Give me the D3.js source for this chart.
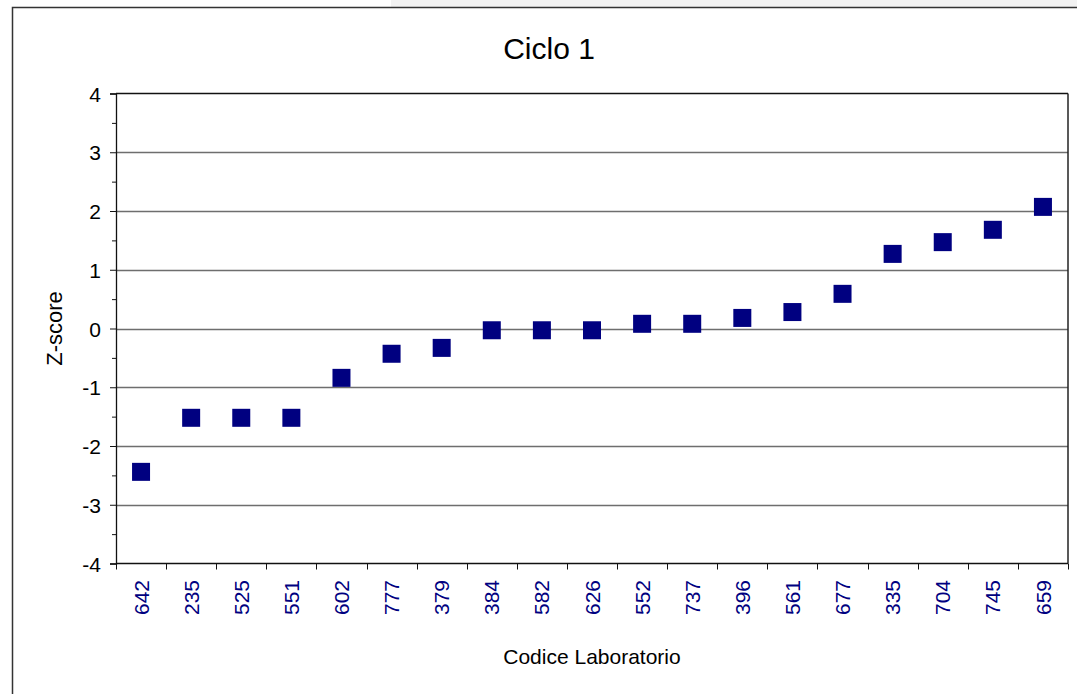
<!DOCTYPE html>
<html>
<head>
<meta charset="utf-8">
<script src="https://cdn.jsdelivr.net/npm/d3@7"></script>
<style>
  body { margin: 0; background: #fff; }
  svg { display: block; font-family: "Liberation Sans", Arial, sans-serif; }
</style>
</head>
<body>
<div id="container"></div>
<script>
// lab codes and their z-scores
var labCodes = ["642", "235", "525", "551", "602", "777", "379", "384", "582", "626",
                "552", "737", "396", "561", "677", "335", "704", "745", "659"];
var zScores = [-2.44, -1.52, -1.52, -1.52, -0.84, -0.43, -0.33, -0.03, -0.03, -0.03,
               0.08, 0.08, 0.18, 0.28, 0.59, 1.27, 1.47, 1.68, 2.07];
var yTicks = [-4, -3, -2, -1, 0, 1, 2, 3, 4];
var yMinorTicks = [-3.5, -2.5, -1.5, -0.5, 0.5, 1.5, 2.5, 3.5];

var W = 1077, H = 694;
var plot = { left: 116, right: 1068, top: 93.5, bottom: 563.5 };

var svg = d3.select("div#container")
  .append("svg")
  .attr("width", W)
  .attr("height", H);

// faint strip along the top and the outer chart frame
svg.append("rect")
  .attr("x", 391).attr("y", 0).attr("width", W - 391).attr("height", 7)
  .attr("fill", "#f2f2f2");
svg.append("rect")
  .attr("x", 12.5).attr("y", 7.5).attr("width", W + 20).attr("height", H + 20)
  .attr("fill", "none").attr("stroke", "#333").attr("stroke-width", 1.5);

var x = d3.scaleBand()
  .domain(labCodes)
  .range([plot.left, plot.right])
  .padding(0);

var y = d3.scaleLinear()
  .domain([-4, 4])
  .range([plot.bottom, plot.top]);

// gridlines
svg.append("g")
  .attr("class", "grid")
  .selectAll("line")
  .data(yTicks.filter(function(d) { return d > -4 && d < 4; }))
  .enter().append("line")
  .attr("x1", plot.left).attr("x2", plot.right)
  .attr("y1", function(d) { return Math.round(y(d)) + 0.5; })
  .attr("y2", function(d) { return Math.round(y(d)) + 0.5; })
  .attr("stroke", "#6e6e6e")
  .attr("stroke-width", 1.3);

// plot frame: top and right
svg.append("line")
  .attr("x1", plot.left).attr("x2", plot.right)
  .attr("y1", y(4)).attr("y2", y(4))
  .attr("stroke", "#111").attr("stroke-width", 1.3);
svg.append("line")
  .attr("x1", plot.right).attr("x2", plot.right)
  .attr("y1", y(4)).attr("y2", y(-4))
  .attr("stroke", "#222").attr("stroke-width", 1.5);

// y axis
var yAxis = svg.append("g")
  .attr("transform", "translate(" + plot.left + ",0)")
  .call(d3.axisLeft(y).tickValues(yTicks).tickSize(6).tickPadding(9)
    .tickFormat(function(d) { return String(d); }));
yAxis.select(".domain").attr("stroke", "#111").attr("stroke-width", 1.3);
yAxis.selectAll(".tick line").attr("stroke", "#111");
yAxis.selectAll("text")
  .attr("fill", "#000")
  .attr("font-size", 21)
  .attr("dy", "0.36em");

svg.append("g")
  .attr("transform", "translate(" + plot.left + ",0)")
  .call(d3.axisLeft(y).tickValues(yMinorTicks).tickSize(4).tickFormat(""))
  .call(function(g) { g.select(".domain").remove(); })
  .selectAll(".tick line").attr("stroke", "#111");

// x axis: ticks on category boundaries, labels in the middle
svg.append("line")
  .attr("x1", plot.left).attr("x2", plot.right)
  .attr("y1", y(-4)).attr("y2", y(-4))
  .attr("stroke", "#111").attr("stroke-width", 1.5);

var bounds = labCodes.map(function(d) { return x(d); }).concat([x.range()[1]]);
svg.append("g")
  .selectAll("line")
  .data(bounds)
  .enter().append("line")
  .attr("x1", function(d) { return Math.round(d) + 0.5; })
  .attr("x2", function(d) { return Math.round(d) + 0.5; })
  .attr("y1", y(-4)).attr("y2", y(-4) + 6)
  .attr("stroke", "#111");

var xAxis = svg.append("g")
  .attr("transform", "translate(0," + y(-4) + ")")
  .call(d3.axisBottom(x).tickSize(0).tickPadding(0));
xAxis.select(".domain").remove();
xAxis.selectAll("text")
  .attr("fill", "#000080")
  .attr("font-size", 21)
  .attr("text-anchor", "end")
  .attr("transform", "rotate(-90)")
  .attr("x", -16.5)
  .attr("y", 0)
  .attr("dy", "0.36em");

// markers
svg.append("g")
  .selectAll("rect")
  .data(zScores)
  .enter().append("rect")
  .attr("x", function(d, i) { return x(labCodes[i]) + x.bandwidth() / 2 - 9; })
  .attr("y", function(d) { return y(d) - 9; })
  .attr("width", 18)
  .attr("height", 18)
  .attr("fill", "#000080");

// titles
svg.append("text")
  .attr("x", 549).attr("y", 59)
  .attr("text-anchor", "middle")
  .attr("font-size", 30)
  .text("Ciclo 1");

svg.append("text")
  .attr("x", (plot.left + plot.right) / 2).attr("y", 664)
  .attr("text-anchor", "middle")
  .attr("font-size", 21)
  .text("Codice Laboratorio");

svg.append("text")
  .attr("transform", "translate(62," + y(0) + ") rotate(-90)")
  .attr("text-anchor", "middle")
  .attr("font-size", 22)
  .text("Z-score");
</script>
</body>
</html>
